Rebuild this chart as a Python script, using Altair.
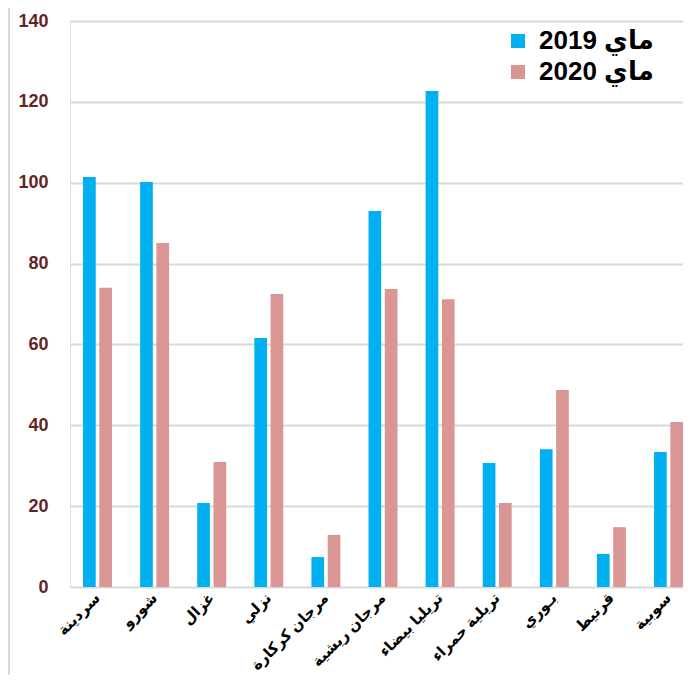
import altair as alt
import pandas as pd

species = ["سردينة", "شورو", "غزال", "نزلي", "مرجان كركارة", "مرجان ريشية",
           "تريليا بيضاء", "تريلية حمراء", "بـوري", "قرنيط", "سوبية"]
may_2019 = [101.4, 100.2, 20.8, 61.6, 7.4, 93.0, 122.7, 30.7, 34.1, 8.2, 33.4]
may_2020 = [74.0, 85.1, 30.9, 72.5, 12.9, 73.7, 71.2, 20.8, 48.7, 14.8, 40.8]
series = ["2019 ماي", "2020 ماي"]
colors = ["#00b0f0", "#da9694"]
y_ticks = [0, 20, 40, 60, 80, 100, 120, 140]

rows = []
for i, s in enumerate(species):
    rows.append({"species": s, "series": series[0], "value": may_2019[i]})
    rows.append({"species": s, "series": series[1], "value": may_2020[i]})
df = pd.DataFrame(rows)

W, H = 613, 566
FONT = "Liberation Sans, DejaVu Sans, Arial, sans-serif"

bars = alt.Chart(df).mark_bar().encode(
    x=alt.X("species:N", sort=species,
            scale=alt.Scale(paddingInner=0.493, paddingOuter=0.114, align=1),
            axis=alt.Axis(title=None, labelAngle=-45, labelAlign="right",
                          labelBaseline="middle", labelFontSize=15,
                          labelFontWeight="bold", labelColor="#000000",
                          labelFont=FONT, labelPadding=8, ticks=False,
                          domain=False, grid=False, labelLimit=200)),
    xOffset=alt.XOffset("series:N", sort=series,
                        scale=alt.Scale(paddingInner=0.22, paddingOuter=0)),
    y=alt.Y("value:Q", scale=alt.Scale(domain=[0, 140], nice=False),
            axis=alt.Axis(title=None, values=y_ticks, labelFontSize=18,
                          labelFontWeight="bold", labelColor="#632523",
                          labelFont=FONT, labelPadding=22, ticks=False,
                          domain=False, grid=True, gridColor="#d9d9d9",
                          gridWidth=2)),
    color=alt.Color("series:N", sort=series,
                    scale=alt.Scale(domain=series, range=colors),
                    legend=alt.Legend(title=None, orient="none", legendX=435,
                                      legendY=7, symbolType="square",
                                      symbolSize=196, symbolStrokeWidth=0,
                                      labelFontSize=26, labelFontWeight="bold",
                                      labelFont=FONT, labelColor="#000000",
                                      labelOffset=8, rowPadding=5,
                                      labelLimit=300)),
)

frame = alt.Chart(pd.DataFrame({"k": [0]})).mark_rule(
    color="#d9d9d9", strokeWidth=2
).encode(x=alt.value(-61), y=alt.value(-13), y2=alt.value(H + 88))

chart = alt.layer(frame, bars).properties(
    width=W, height=H,
    autosize=alt.AutoSizeParams(type="none"),
    padding={"left": 62, "top": 13, "right": 0, "bottom": 88},
).configure_view(stroke=None).configure(background="white")

chart.save("out.html", embed_options={"renderer": "svg", "actions": False})
